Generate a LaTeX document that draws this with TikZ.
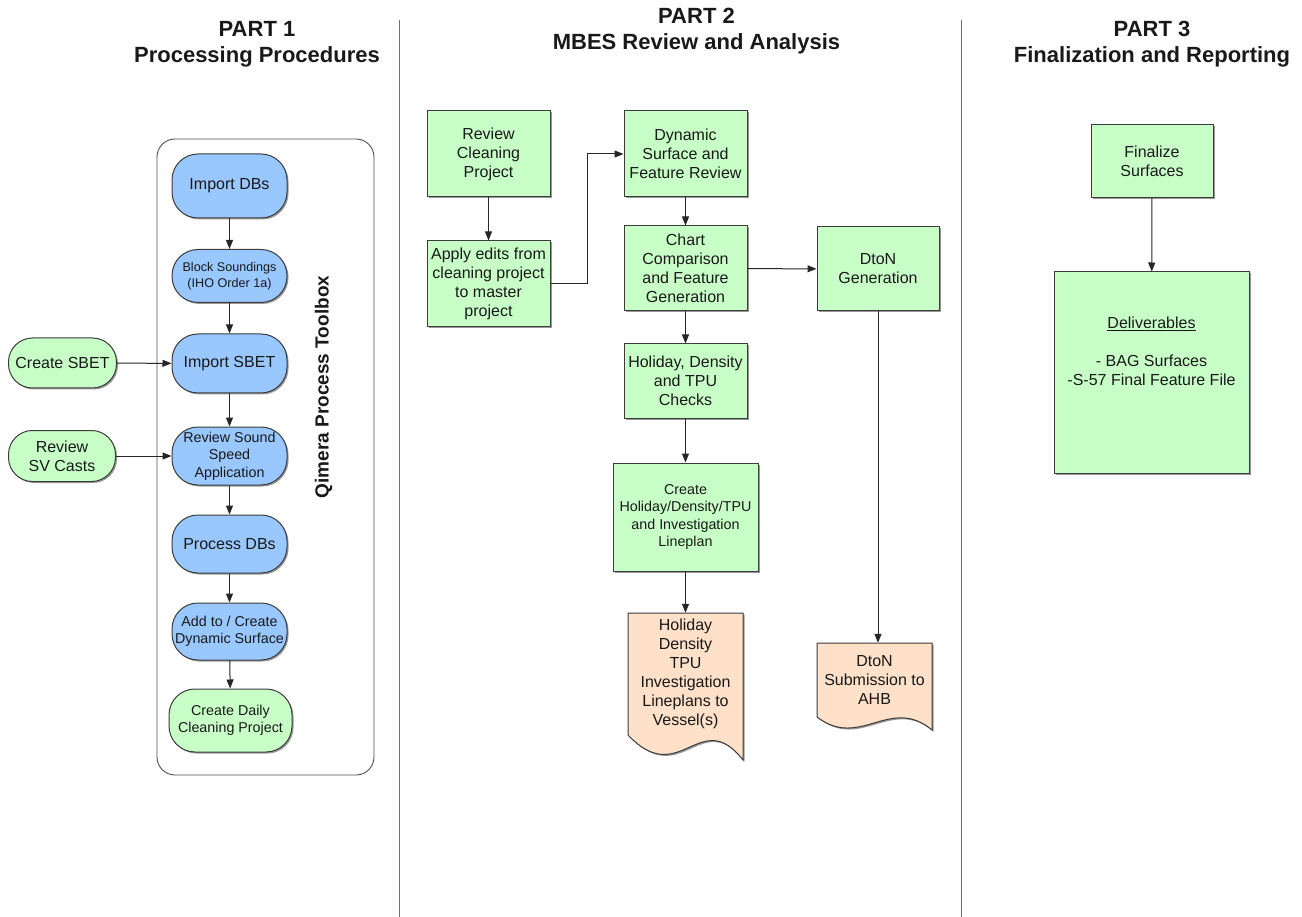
\documentclass[tikz,border=0pt]{standalone}
\usepackage{fontspec}
\setmainfont{Liberation Sans}
\usetikzlibrary{arrows.meta,shadows,calc}
\definecolor{gfill}{RGB}{199,255,199}
\definecolor{bfill}{RGB}{153,199,255}
\definecolor{ofill}{RGB}{255,224,200}
\definecolor{edge}{RGB}{60,60,60}
\definecolor{txt}{RGB}{25,25,25}
\definecolor{divider}{RGB}{110,110,110}
\begin{document}
\begin{tikzpicture}[x=1pt,y=-1pt,
  every node/.style={text=txt},
  shad/.style={drop shadow={shadow xshift=1.5pt,shadow yshift=-1.5pt,opacity=0.4,fill=black}},
  fbig/.style={font=\fontsize{16}{19}\selectfont},
  fmid/.style={font=\fontsize{14.3}{17.5}\selectfont},
  rbox/.style={rectangle, draw=edge, line width=1pt, fill=gfill, align=center, inner sep=1pt, fbig, shad},
  pill/.style={rectangle, rounded corners=26pt, draw=edge, line width=1pt, fill=bfill, align=center, minimum width=115pt, inner sep=1pt, fbig, shad},
  docbox/.style={draw=edge, line width=1pt, fill=ofill, shad},
  doctext/.style={align=center, inner sep=0pt, fbig},
  arr/.style={draw=black!85, line width=1pt, -{Triangle[length=9pt,width=7pt]}},
  ttl/.style={font=\fontsize{22}{26}\selectfont\bfseries, align=center},
]
\useasboundingbox (0,0) rectangle (1302,917);

% dividers
\draw[draw=divider, line width=1pt] (399,20) -- (399,917);
\draw[draw=divider, line width=1pt] (961,20) -- (961,917);

% titles
\node[ttl] (t1) at (257,44.5) {PART 1\\Processing Procedures};
\node[ttl] (t2) at (696.5,31) {PART 2\\MBES Review and Analysis};
\node[ttl] (t3) at (1152,44) {PART 3\\Finalization and Reporting};

% ---------- PART 1 ----------
\node[draw=edge!90, line width=0.9pt, rounded corners=18pt, minimum width=217pt, minimum height=636pt, inner sep=0pt] (toolbox) at (265.5,457) {};
\node[rotate=90, font=\fontsize{19}{22}\selectfont\bfseries] (qlabel) at (323.5,387) {Qimera Process Toolbox};

\node[pill, minimum height=64pt] (idb) at (229.5,186) {Import DBs};
\node[pill, minimum height=53pt, font=\fontsize{12.6}{16}\selectfont] (blk) at (229.5,276) {Block Soundings\\(IHO Order 1a)};
\node[pill, minimum height=59pt] (isbet) at (229.5,363.5) {Import SBET};
\node[pill, minimum height=58pt, fmid] (rss) at (229.5,456) {Review Sound\\Speed\\Application};
\node[pill, minimum height=58pt] (pdb) at (229.5,544) {Process DBs};
\node[pill, minimum height=57pt, fmid] (add) at (229.5,631.5) {Add to / Create\\Dynamic Surface};
\node[pill, fill=gfill, minimum width=123pt, minimum height=63pt, fmid] (daily) at (230.5,720.5) {Create Daily\\Cleaning Project};

\node[pill, fill=gfill, rounded corners=24pt, minimum width=108pt, minimum height=50pt] (csbet) at (62.5,363) {Create SBET};
\node[pill, fill=gfill, rounded corners=24pt, minimum width=107pt, minimum height=51pt] (rsv) at (62,456) {Review\\SV Casts};

\draw[arr] (idb) -- (blk);
\draw[arr] (blk) -- (isbet);
\draw[arr] (isbet) -- (rss);
\draw[arr] (rss) -- (pdb);
\draw[arr] (pdb) -- (add);
\draw[arr] (add) -- (daily);
\draw[arr] (csbet) -- (isbet);
\draw[arr] (rsv) -- (rss);

% ---------- PART 2 ----------
\node[rbox, minimum width=123pt, minimum height=86pt] (rcp) at (488.5,154) {Review\\Cleaning\\Project};
\node[rbox, minimum width=123pt, minimum height=86pt] (apply) at (488.5,284) {Apply edits from\\cleaning project\\to master\\project};
\node[rbox, minimum width=123pt, minimum height=86pt] (dyn) at (685.5,154) {Dynamic\\Surface and\\Feature Review};
\node[rbox, minimum width=123pt, minimum height=85pt] (chart) at (685.5,268.5) {Chart\\Comparison\\and Feature\\Generation};
\node[rbox, minimum width=123pt, minimum height=74pt] (hchk) at (685.5,381) {Holiday, Density\\and TPU\\Checks};
\node[rbox, minimum width=122pt, minimum height=84pt] (dgen) at (878,269) {DtoN\\Generation};
\node[rbox, minimum width=145pt, minimum height=108pt, fmid] (clp) at (685.5,517) {Create\\Holiday/Density/TPU\\and Investigation\\Lineplan};

% document shapes
\path[docbox] (628,613) -- (743,613) -- (743,760) .. controls (700,705) and (680,790) .. (628,735) -- cycle;
\node[doctext, minimum width=115pt, minimum height=122pt] (hdoc) at (685.5,674) {Holiday\\Density\\TPU\\Investigation\\Lineplans to\\Vessel(s)};
\path[docbox] (817,643) -- (932,643) -- (932,730) .. controls (890,695) and (860,750) .. (817,717) -- cycle;
\node[doctext, minimum width=115pt, minimum height=74pt] (ddoc) at (874.5,680) {DtoN\\Submission to\\AHB};

\draw[arr] (rcp) -- (apply);
\draw[arr] (apply.east) -- ++(37,0) |- (dyn.west);
\draw[arr] (dyn) -- (chart);
\draw[arr] (chart) -- (dgen);
\draw[arr] (chart) -- (hchk);
\draw[arr] (hchk) -- (clp);
\draw[arr] (clp.south) -- (hdoc.north);
\draw[arr] (dgen.south) -- (dgen.south |- ddoc.north);

% ---------- PART 3 ----------
\node[rbox, minimum width=122pt, minimum height=73pt] (fin) at (1152,161.5) {Finalize\\Surfaces};
\node[rbox, minimum width=195pt, minimum height=201pt] (deliv) at (1151.5,372.5) {};
\node[align=center, fbig, inner sep=0pt] (delivtxt) at (1151.5,351) {\underline{Deliverables}\\\mbox{}\\- BAG Surfaces\\-S-57 Final Feature File};
\draw[arr] (fin) -- (deliv);
\end{tikzpicture}
\end{document}
